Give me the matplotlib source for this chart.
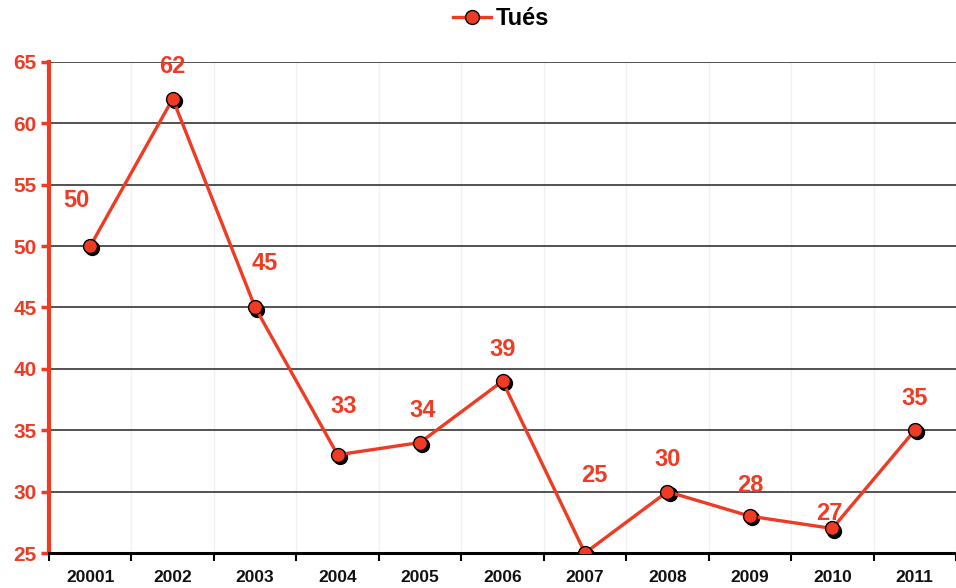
import numpy as np
import matplotlib
matplotlib.use("Agg")
import matplotlib.pyplot as plt
from matplotlib.transforms import offset_copy

plt.rcParams["font.family"] = ["Liberation Sans", "DejaVu Sans"]

years = ["20001", "2002", "2003", "2004", "2005", "2006",
         "2007", "2008", "2009", "2010", "2011"]
tues = [50, 62, 45, 33, 34, 39, 25, 30, 28, 27, 35]
# label offsets in points (dx, dy)
label_offsets = [(-10, 33), (0, 23), (7, 32), (4, 35), (2, 23), (0, 23),
                 (7, 56), (0, 23), (0, 22), (-2, 11), (0, 23)]

RED = "#ef3b24"

fig = plt.figure(figsize=(9.56, 5.88), dpi=100)
ax = fig.add_axes([0.0513, 0.0595, 0.9487, 0.8351])

x = np.arange(len(years))

# shadow of markers
shadow = offset_copy(ax.transData, fig=fig, x=1.5, y=-1.5, units="points")
ax.plot(x, tues, linestyle="none", marker="o", markersize=10,
        color="black", transform=shadow, zorder=3)
line, = ax.plot(x, tues, color=RED, linewidth=2.4, marker="o", markersize=10,
                markerfacecolor=RED, markeredgecolor="black",
                markeredgewidth=1.0, zorder=4, label="Tués")

for xi, v, (dx, dy) in zip(x, tues, label_offsets):
    ax.annotate(str(v), (xi, v), xytext=(dx, dy), textcoords="offset points",
                ha="center", va="center", color=RED, fontsize=17,
                fontweight="bold", zorder=5)

ax.set_xlim(-0.5, len(years) - 0.5)
ax.set_ylim(25, 65)
ax.set_yticks(range(25, 66, 5))
ax.set_xticks(x)
ax.set_xticklabels(years)
ax.set_xticks(np.arange(len(years) + 1) - 0.5, minor=True)

ax.grid(axis="y", color="#444444", linewidth=1.3, zorder=1)
ax.grid(axis="x", which="minor", color="#f0f0f0", linewidth=1.0, zorder=1)
ax.set_axisbelow(True)

ax.tick_params(axis="x", which="major", length=0, pad=12,
               labelsize=12.5, labelcolor="#111111")
ax.tick_params(axis="x", which="minor", length=6, width=1.5,
               direction="out", color="black")
ax.tick_params(axis="y", length=6, width=2.5, color=RED, direction="out",
               labelsize=15, labelcolor=RED, pad=3)
for lab in ax.get_xticklabels() + ax.get_yticklabels():
    lab.set_fontweight("bold")

ax.spines["left"].set_color(RED)
ax.spines["left"].set_linewidth(3)
ax.spines["bottom"].set_color("black")
ax.spines["bottom"].set_linewidth(2.2)
ax.spines["top"].set_visible(False)
ax.spines["right"].set_visible(False)

fig.legend(handles=[line], loc="center", bbox_to_anchor=(0.524, 0.968),
           frameon=False, prop={"weight": "bold", "size": 17},
           handlelength=1.6, handletextpad=0.2)

fig.savefig("out.png", dpi=100)
